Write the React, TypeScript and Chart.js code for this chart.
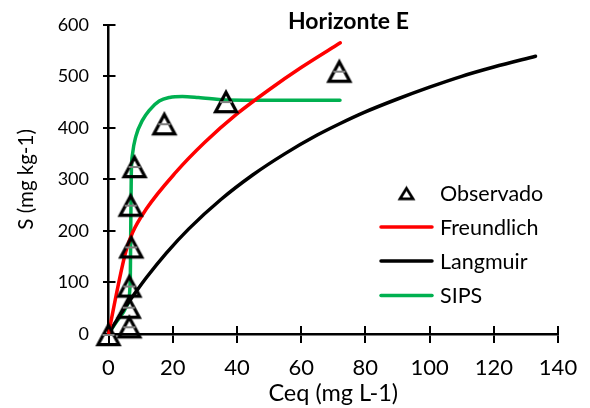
import React, { useEffect, useRef } from "react";
import { Chart, registerables } from "chart.js";

Chart.register(...registerables);

// ---- Data ----
const chartTitle = "Horizonte E";
const xAxisTitle = "Ceq (mg L-1)";
const yAxisTitle = "S (mg kg-1)";
const seriesLabels = ["Observado", "Freundlich", "Langmuir", "SIPS"];

const xMin = 0;
const xMax = 140;
const xStep = 20;
const yMin = 0;
const yMax = 600;
const yStep = 100;

const observedC = [0, 6.5, 6.3, 6.5, 7.1, 6.9, 8.1, 17.4, 36.6, 71.9];
const observedS = [0, 15, 53, 94, 170, 251, 326, 409, 452, 511];

const freundlichC = [0, 3.1, 5.4, 7.5, 11.7, 21, 30, 40, 50, 60, 72.2];
const freundlichS = [0, 97, 160, 197, 242, 314, 372, 427, 474, 517, 565];

const langmuirC = [0, 2, 5, 8, 12, 18, 25, 35, 45, 55, 65, 72, 80, 90, 100, 110, 120, 133];
const langmuirS = [0, 21, 50, 77, 111, 157, 204, 261, 309, 350, 386, 408, 431, 456, 479, 500, 518, 539];

const sipsC = [0, 3, 6, 6.8, 6.95, 7.1, 7.5, 8.5, 10.6, 12.7, 15.8, 19, 23, 28, 36.6, 50, 72.1];
const sipsS = [0, 28, 58, 110, 220, 310, 350, 383, 415, 434, 452, 459, 461, 459, 454, 453.5, 453.5];

const seriesColors = ["#000000", "#FF0000", "#000000", "#00B050"];

const FONT = "Lato";

function toPoints(xs: number[], ys: number[]) {
  return xs.map((x, i) => ({ x, y: ys[i] }));
}

function makeTriangle(halfW: number, h: number, lw: number, bar: boolean) {
  const size = Math.ceil(Math.max(halfW * 2, h) + lw * 4);
  const c = document.createElement("canvas");
  c.width = size;
  c.height = size;
  const g = c.getContext("2d")!;
  const cx = size / 2;
  const cy = size / 2;
  const halfAngle = Math.atan(halfW / h);
  const apexExt = lw / 2 / Math.sin(halfAngle);
  const outerTop = -apexExt;
  const outerBottom = h + lw / 2;
  const offset = cy - (outerTop + outerBottom) / 2;
  g.strokeStyle = "#000";
  g.lineWidth = lw;
  g.lineJoin = "miter";
  g.beginPath();
  g.moveTo(cx, offset);
  g.lineTo(cx + halfW, offset + h);
  g.lineTo(cx - halfW, offset + h);
  g.closePath();
  g.stroke();
  if (bar) {
    g.strokeStyle = "#808080";
    g.lineWidth = 2;
    g.beginPath();
    g.moveTo(cx - 6, cy + 1);
    g.lineTo(cx + 6, cy + 1);
    g.stroke();
  }
  return c;
}

export default function App() {
  const ref = useRef<HTMLCanvasElement | null>(null);

  useEffect(() => {
    if (!ref.current) return;
    const marker = makeTriangle(10.5, 19.5, 3.2, true);
    const legendMarker = makeTriangle(6.5, 10.5, 2.8, false);

    const overlay = {
      id: "overlay",
      beforeDatasetsDraw(chart: any) {
        const { ctx, chartArea, scales } = chart;
        const xs = scales.x;
        const ys = scales.y;
        ctx.save();
        ctx.strokeStyle = "#000";
        ctx.lineWidth = 2;
        ctx.beginPath();
        xs.ticks.forEach((t: any) => {
          const px = Math.round(xs.getPixelForValue(t.value));
          ctx.moveTo(px, chartArea.bottom);
          ctx.lineTo(px, chartArea.bottom - 8);
        });
        ys.ticks.forEach((t: any) => {
          const py = Math.round(ys.getPixelForValue(t.value));
          ctx.moveTo(chartArea.left, py);
          ctx.lineTo(chartArea.left + 7, py);
        });
        ctx.stroke();
        ctx.restore();
      },
      afterDraw(chart: any) {
        const { ctx } = chart;
        ctx.save();
        ctx.fillStyle = "#000";
        ctx.font = `bold 23px ${FONT}`;
        ctx.textAlign = "left";
        ctx.textBaseline = "alphabetic";
        ctx.fillText(chartTitle, 288, 28.5);

        const rowY = [193, 227, 261, 295.5];
        const textX = 440;
        ctx.font = `21.5px ${FONT}`;
        ctx.textBaseline = "middle";
        chart.data.datasets.forEach((ds: any, i: number) => {
          const y = rowY[i];
          if (i === 0) {
            ctx.drawImage(legendMarker, 406.5 - legendMarker.width / 2, y - legendMarker.height / 2);
          } else {
            ctx.strokeStyle = ds.borderColor;
            ctx.lineWidth = 3.5;
            ctx.lineCap = "round";
            ctx.beginPath();
            ctx.moveTo(381, y);
            ctx.lineTo(432, y);
            ctx.stroke();
          }
          ctx.fillStyle = "#000";
          ctx.fillText(ds.label, textX, y + 1);
        });
        ctx.restore();
      },
    };

    const lineDs = (label: string, color: string, xs: number[], ys: number[]) => ({
      label,
      data: toPoints(xs, ys),
      showLine: true,
      borderColor: color,
      backgroundColor: color,
      borderWidth: 3.5,
      borderCapStyle: "round" as const,
      borderJoinStyle: "round" as const,
      cubicInterpolationMode: "monotone" as const,
      pointRadius: 0,
      pointHoverRadius: 0,
      clip: false as any,
    });

    const chart = new Chart(ref.current, {
      type: "scatter",
      data: {
        datasets: [
          {
            label: seriesLabels[0],
            data: toPoints(observedC, observedS),
            showLine: false,
            pointStyle: marker as any,
            pointRadius: 12,
            borderColor: seriesColors[0],
            backgroundColor: "transparent",
            clip: false as any,
          },
          lineDs(seriesLabels[1], seriesColors[1], freundlichC, freundlichS),
          lineDs(seriesLabels[2], seriesColors[2], langmuirC, langmuirS),
          lineDs(seriesLabels[3], seriesColors[3], sipsC, sipsS),
        ],
      },
      options: {
        animation: false,
        responsive: false,
        devicePixelRatio: 1,
        layout: { padding: { left: 0, right: 32, top: 20, bottom: 0 } },
        plugins: {
          legend: { display: false },
          title: { display: false },
          tooltip: { enabled: false },
        },
        scales: {
          x: {
            type: "linear",
            min: xMin,
            max: xMax,
            ticks: {
              stepSize: xStep,
              color: "#000",
              font: { family: FONT, size: 22 },
              padding: 12,
            },
            grid: {
              drawOnChartArea: false,
              drawTicks: true,
              tickLength: 9,
              color: "#000",
              lineWidth: 2,
            },
            border: { color: "#000", width: 2.5 },
            title: {
              display: true,
              text: xAxisTitle,
              color: "#000",
              font: { family: FONT, size: 23.5 },
              padding: { top: 0, bottom: 0 },
            },
            afterFit(scale: any) {
              scale.height = 74;
            },
          },
          y: {
            type: "linear",
            min: yMin,
            max: yMax,
            ticks: {
              stepSize: yStep,
              color: "#000",
              font: { family: FONT, size: 18 },
              padding: 14,
            },
            grid: {
              drawOnChartArea: false,
              drawTicks: true,
              tickLength: 5.5,
              color: "#000",
              lineWidth: 2,
            },
            border: { color: "#000", width: 2.5 },
            title: {
              display: true,
              text: yAxisTitle,
              color: "#000",
              font: { family: FONT, size: 20.5 },
              padding: { top: 14, bottom: 0 },
            },
            afterFit(scale: any) {
              scale.width = 108.5;
            },
          },
        },
      },
      plugins: [overlay],
    });
    return () => chart.destroy();
  }, []);

  return (
    <div style={{ position: "fixed", left: 0, top: 0, width: 590, height: 408, background: "#fff" }}>
      <canvas ref={ref} width={590} height={408} />
    </div>
  );
}
